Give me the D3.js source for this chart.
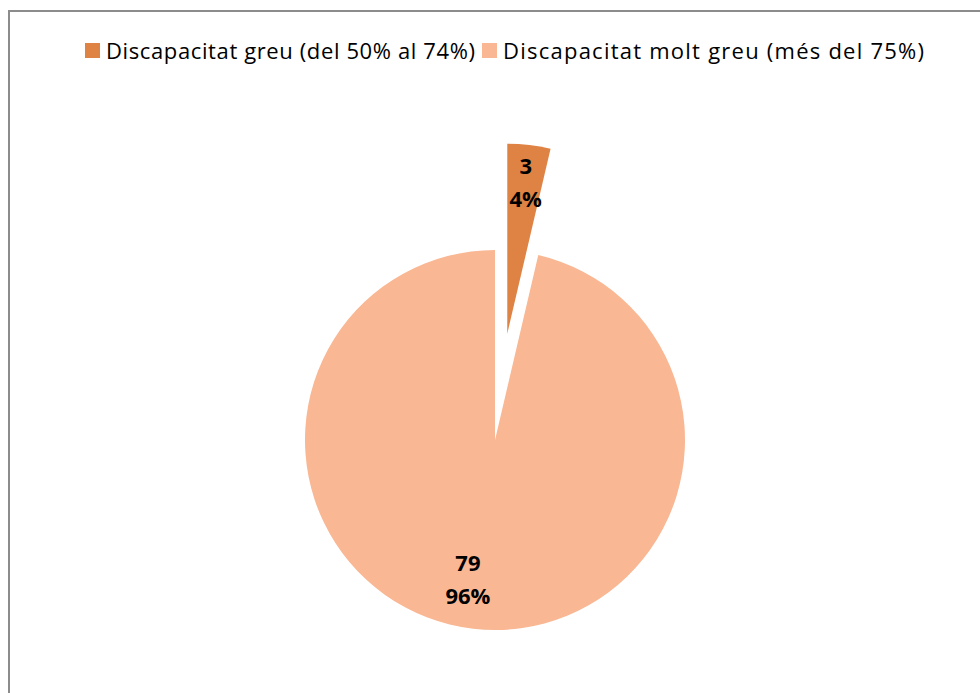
<!DOCTYPE html>
<html>
<head>
<meta charset="utf-8">
<script src="https://cdn.jsdelivr.net/npm/d3@7"></script>
<style>
  body { margin: 0; background: #fff; }
  text { font-family: "Open Sans", Lato, sans-serif; }
</style>
</head>
<body>
<div id="chart"></div>
<script>
const categories = ["Discapacitat greu (del 50% al 74%)", "Discapacitat molt greu (més del 75%)"];
const values = [3, 79];
const colors = ["#DF8344", "#F9B793"];

const width = 980, height = 693;
const cx = 495, cy = 440, radius = 190;
// how far each slice is pulled out, and where its label sits (fraction of radius)
const explode = [107, 0];
const labelRadius = [0.8, 0.74];
const labelShift = [1, -11];

const svg = d3.select("#chart").append("svg")
  .attr("width", width)
  .attr("height", height);

// chart frame
svg.append("rect")
  .attr("x", 9).attr("y", 11)
  .attr("width", 1000).attr("height", 720)
  .attr("fill", "none")
  .attr("stroke", "#8c8c8c")
  .attr("stroke-width", 2);

const total = d3.sum(values);
const pie = d3.pie().sort(null).value(d => d);
const arcs = pie(values);

const arc = d3.arc().innerRadius(0).outerRadius(radius);

const g = svg.append("g").attr("transform", `translate(${cx},${cy})`);

const slices = g.selectAll("g.slice")
  .data(arcs)
  .enter()
  .append("g")
  .attr("class", "slice")
  .attr("transform", (d, i) => {
    let mid = (d.startAngle + d.endAngle) / 2;
    let off = explode[i];
    return `translate(${Math.sin(mid) * off},${-Math.cos(mid) * off})`;
  });

slices.append("path")
  .attr("d", arc)
  .attr("fill", (d, i) => colors[i]);

// data labels: value and percentage
slices.each(function (d, i) {
  let r = radius * labelRadius[i];
  let [lx, ly] = d3.arc().innerRadius(r).outerRadius(r).centroid(d);
  lx += labelShift[i];
  let t = d3.select(this).append("text")
    .attr("text-anchor", "middle")
    .attr("font-size", 22)
    .attr("font-weight", "bold")
    .attr("fill", "#000");
  t.append("tspan").attr("x", lx).attr("y", ly - 9).text(values[i]);
  t.append("tspan").attr("x", lx).attr("y", ly + 24)
    .text(Math.round(values[i] / total * 100) + "%");
});

// legend
const legendX = [85, 482];
const legendW = [369, 421];
const legend = svg.append("g");
categories.forEach(function (name, i) {
  legend.append("rect")
    .attr("x", legendX[i]).attr("y", 43)
    .attr("width", 15).attr("height", 15)
    .attr("fill", colors[i]);
  legend.append("text")
    .attr("x", legendX[i] + 21).attr("y", 59)
    .attr("font-size", 22)
    .attr("fill", "#000")
    .attr("textLength", legendW[i])
    .text(name);
});
</script>
</body>
</html>
